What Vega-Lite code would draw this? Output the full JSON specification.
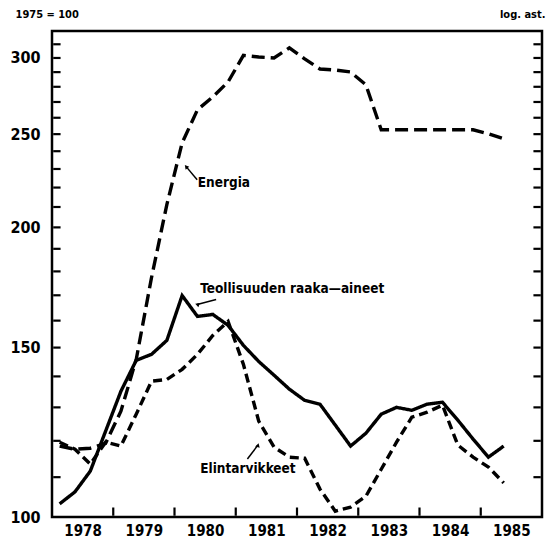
{
  "$schema": "https://vega.github.io/schema/vega-lite/v6.json",
  "autosize": "none",
  "width": 490,
  "height": 486,
  "padding": {"left": 52, "top": 31, "right": 10, "bottom": 21},
  "background": "white",
  "config": {
    "view": {"stroke": "black", "strokeWidth": 2.5},
    "font": "DejaVu Sans Condensed",
    "axis": {"domain": false, "ticks": false, "grid": false, "labelColor": "black", "titleColor": "black", "labelFont": "DejaVu Sans Condensed", "titleFont": "DejaVu Sans Condensed", "labelFontWeight": "bold", "titleFontWeight": "bold"}
  },
  "datasets": {
    "series": [
      {"s": "T", "t": 1978.125, "v": 103.2}, {"s": "T", "t": 1978.375, "v": 106.2}, {"s": "T", "t": 1978.625, "v": 111.6}, {"s": "T", "t": 1978.875, "v": 122.8},
      {"s": "T", "t": 1979.125, "v": 135.1}, {"s": "T", "t": 1979.375, "v": 145.5}, {"s": "T", "t": 1979.625, "v": 147.6}, {"s": "T", "t": 1979.875, "v": 152.6},
      {"s": "T", "t": 1980.125, "v": 169.9}, {"s": "T", "t": 1980.375, "v": 161.6}, {"s": "T", "t": 1980.625, "v": 162.4}, {"s": "T", "t": 1980.875, "v": 158.2},
      {"s": "T", "t": 1981.125, "v": 150.8}, {"s": "T", "t": 1981.375, "v": 145.1}, {"s": "T", "t": 1981.625, "v": 140.4}, {"s": "T", "t": 1981.875, "v": 135.8},
      {"s": "T", "t": 1982.125, "v": 132.2}, {"s": "T", "t": 1982.375, "v": 131.0}, {"s": "T", "t": 1982.625, "v": 124.6}, {"s": "T", "t": 1982.875, "v": 118.5},
      {"s": "T", "t": 1983.125, "v": 122.2}, {"s": "T", "t": 1983.375, "v": 127.9}, {"s": "T", "t": 1983.625, "v": 130.0}, {"s": "T", "t": 1983.875, "v": 129.1},
      {"s": "T", "t": 1984.125, "v": 131.0}, {"s": "T", "t": 1984.375, "v": 131.6}, {"s": "T", "t": 1984.625, "v": 126.1}, {"s": "T", "t": 1984.875, "v": 120.5},
      {"s": "T", "t": 1985.125, "v": 115.4}, {"s": "T", "t": 1985.375, "v": 118.5},
      {"s": "E", "t": 1978.125, "v": 118.5}, {"s": "E", "t": 1978.375, "v": 117.6}, {"s": "E", "t": 1978.625, "v": 117.9}, {"s": "E", "t": 1978.875, "v": 119.3},
      {"s": "E", "t": 1979.125, "v": 128.8}, {"s": "E", "t": 1979.375, "v": 145.8}, {"s": "E", "t": 1979.625, "v": 177.4}, {"s": "E", "t": 1979.875, "v": 211.2},
      {"s": "E", "t": 1980.125, "v": 244.9}, {"s": "E", "t": 1980.375, "v": 265.0}, {"s": "E", "t": 1980.625, "v": 273.3}, {"s": "E", "t": 1980.875, "v": 283.3},
      {"s": "E", "t": 1981.125, "v": 301.9}, {"s": "E", "t": 1981.375, "v": 300.7}, {"s": "E", "t": 1981.625, "v": 300.0}, {"s": "E", "t": 1981.875, "v": 307.3},
      {"s": "E", "t": 1982.125, "v": 299.3}, {"s": "E", "t": 1982.375, "v": 292.2}, {"s": "E", "t": 1982.625, "v": 291.5}, {"s": "E", "t": 1982.875, "v": 290.1},
      {"s": "E", "t": 1983.125, "v": 281.3}, {"s": "E", "t": 1983.375, "v": 252.6}, {"s": "E", "t": 1983.625, "v": 252.6}, {"s": "E", "t": 1983.875, "v": 252.6},
      {"s": "E", "t": 1984.125, "v": 252.6}, {"s": "E", "t": 1984.375, "v": 252.6}, {"s": "E", "t": 1984.625, "v": 252.6}, {"s": "E", "t": 1984.875, "v": 252.6},
      {"s": "E", "t": 1985.125, "v": 250.2}, {"s": "E", "t": 1985.375, "v": 247.2},
      {"s": "F", "t": 1978.125, "v": 119.6}, {"s": "F", "t": 1978.375, "v": 117.6}, {"s": "F", "t": 1978.625, "v": 113.5}, {"s": "F", "t": 1978.875, "v": 119.6},
      {"s": "F", "t": 1979.125, "v": 118.5}, {"s": "F", "t": 1979.375, "v": 127.9}, {"s": "F", "t": 1979.625, "v": 138.4}, {"s": "F", "t": 1979.875, "v": 139.0},
      {"s": "F", "t": 1980.125, "v": 142.4}, {"s": "F", "t": 1980.375, "v": 147.6}, {"s": "F", "t": 1980.625, "v": 154.4}, {"s": "F", "t": 1980.875, "v": 159.7},
      {"s": "F", "t": 1981.125, "v": 144.1}, {"s": "F", "t": 1981.375, "v": 125.8}, {"s": "F", "t": 1981.625, "v": 118.2}, {"s": "F", "t": 1981.875, "v": 115.4},
      {"s": "F", "t": 1982.125, "v": 115.1}, {"s": "F", "t": 1982.375, "v": 106.9}, {"s": "F", "t": 1982.625, "v": 101.4}, {"s": "F", "t": 1982.875, "v": 102.4},
      {"s": "F", "t": 1983.125, "v": 105.1}, {"s": "F", "t": 1983.375, "v": 112.1}, {"s": "F", "t": 1983.625, "v": 119.6}, {"s": "F", "t": 1983.875, "v": 127.0},
      {"s": "F", "t": 1984.125, "v": 128.5}, {"s": "F", "t": 1984.375, "v": 130.7}, {"s": "F", "t": 1984.625, "v": 118.8}, {"s": "F", "t": 1984.875, "v": 115.4},
      {"s": "F", "t": 1985.125, "v": 112.7}, {"s": "F", "t": 1985.375, "v": 108.5}
    ],
    "labels": [
      {"label": "Energia", "t": 1980.38, "v": 222.6},
      {"label": "Teollisuuden raaka—aineet", "t": 1980.42, "v": 172.4},
      {"label": "Elintarvikkeet", "t": 1980.42, "v": 112.1}
    ],
    "arrows": [
      {"label": "Energia", "t": 1980.19, "v": 231.3, "t2": 1980.37, "v2": 224.2},
      {"label": "Teollisuuden raaka—aineet", "t": 1980.37, "v": 166.3, "t2": 1980.68, "v2": 168.3},
      {"label": "Elintarvikkeet", "t": 1981.35, "v": 118.5, "t2": 1981.19, "v2": 114.9}
    ],
    "xticks": [{"t": 1979}, {"t": 1980}, {"t": 1981}, {"t": 1982}, {"t": 1983}, {"t": 1984}, {"t": 1985}],
    "yticks": [{"v": 110}, {"v": 120}, {"v": 130}, {"v": 140}, {"v": 150}, {"v": 160}, {"v": 170}, {"v": 180}, {"v": 190}, {"v": 200}, {"v": 210}, {"v": 220}, {"v": 230}, {"v": 240}, {"v": 250}, {"v": 260}, {"v": 270}, {"v": 280}, {"v": 290}, {"v": 300}, {"v": 310}]
  },
  "resolve": {"axis": {"y": "independent"}},
  "layer": [
    {
      "data": {"name": "series"},
      "mark": {"type": "line", "color": "black", "strokeCap": "butt", "strokeJoin": "miter"},
      "encoding": {
        "x": {"field": "t", "type": "quantitative", "scale": {"domain": [1978, 1986], "nice": false, "zero": false},
          "axis": {"values": [1978, 1979, 1980, 1981, 1982, 1983, 1984, 1985], "format": "d", "title": null, "labelOffset": 30.6, "labelPadding": 6, "labelFontSize": 15, "labelOverlap": false, "labelFlush": false, "labelBound": false}},
        "y": {"field": "v", "type": "quantitative", "scale": {"type": "log", "domain": [100, 320], "nice": false},
          "axis": {"orient": "left", "values": [100, 150, 200, 250, 300], "labelPadding": 12, "labelFontSize": 16,
            "title": "1975 = 100", "titleAngle": 0, "titleX": -37, "titleY": -17, "titleAlign": "left", "titleBaseline": "middle", "titleFontSize": 11}},
        "detail": {"field": "s"},
        "strokeDash": {"field": "s", "type": "nominal", "scale": {"domain": ["T", "E", "F"], "range": [[1, 0], [13, 6], [9, 5]]}, "legend": null},
        "strokeWidth": {"field": "s", "type": "nominal", "scale": {"domain": ["T", "E", "F"], "range": [3.4, 3.4, 2]}, "legend": null}
      }
    },
    {
      "data": {"name": "xticks"},
      "mark": {"type": "rule", "color": "black", "strokeWidth": 2.2},
      "encoding": {
        "x": {"field": "t", "type": "quantitative"},
        "y": {"datum": 100.3, "type": "quantitative", "axis": null},
        "y2": {"datum": 102.3}
      }
    },
    {
      "data": {"name": "yticks"},
      "mark": {"type": "rule", "color": "black", "strokeWidth": 2.2},
      "encoding": {
        "x": {"datum": 1978.02, "type": "quantitative"},
        "x2": {"datum": 1978.14},
        "y": {"field": "v", "type": "quantitative", "axis": null}
      }
    },
    {
      "data": {"name": "yticks"},
      "mark": {"type": "rule", "color": "black", "strokeWidth": 2.2},
      "encoding": {
        "x": {"datum": 1985.86, "type": "quantitative"},
        "x2": {"datum": 1985.98},
        "y": {"field": "v", "type": "quantitative", "axis": null}
      }
    },
    {
      "data": {"name": "labels"},
      "mark": {"type": "text", "align": "left", "baseline": "middle", "font": "DejaVu Sans Condensed", "fontWeight": "bold", "fontSize": 13.5, "color": "black"},
      "encoding": {
        "x": {"field": "t", "type": "quantitative"},
        "y": {"field": "v", "type": "quantitative", "axis": null},
        "text": {"field": "label"}
      }
    },
    {
      "data": {"name": "arrows"},
      "mark": {"type": "point", "shape": "triangle-up", "filled": true, "color": "black", "size": 22, "opacity": 1},
      "encoding": {
        "x": {"field": "t", "type": "quantitative"},
        "y": {"field": "v", "type": "quantitative", "axis": null},
        "angle": {"field": "label", "type": "nominal", "scale": {"domain": ["Energia", "Teollisuuden raaka—aineet", "Elintarvikkeet"], "range": [320, 256, 38]}, "legend": null}
      }
    },
    {
      "data": {"name": "arrows"},
      "mark": {"type": "rule", "color": "black", "strokeWidth": 1.5},
      "encoding": {
        "x": {"field": "t", "type": "quantitative"},
        "x2": {"field": "t2"},
        "y": {"field": "v", "type": "quantitative",
          "axis": {"orient": "right", "values": [100], "labels": false,
            "title": "log. ast.", "titleAngle": 0, "titleX": 3, "titleY": -17, "titleAlign": "right", "titleBaseline": "middle", "titleFontSize": 11}},
        "y2": {"field": "v2"}
      }
    }
  ]
}
